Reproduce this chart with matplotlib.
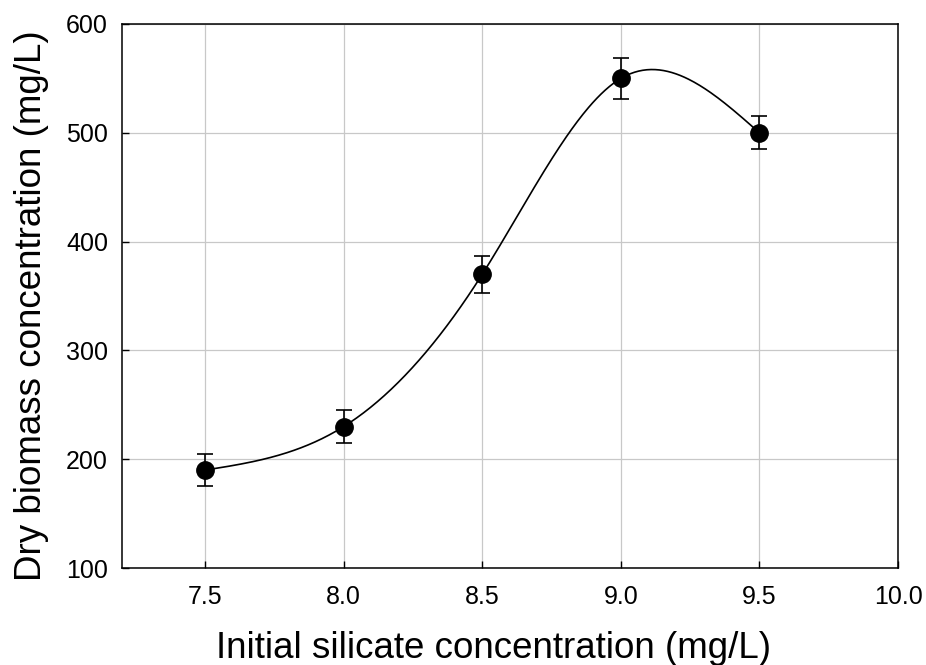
import numpy as np
import matplotlib
matplotlib.use("Agg")
import matplotlib.pyplot as plt

plt.rcParams['font.family'] = ['Liberation Sans', 'DejaVu Sans']

silicate = [7.5, 8.0, 8.5, 9.0, 9.5]
biomass = [190, 230, 370, 550, 500]
errors = [15, 15, 17, 19, 15]
xticks = [7.5, 8.0, 8.5, 9.0, 9.5, 10.0]
yticks = [100, 200, 300, 400, 500, 600]


def natural_spline(x, y, xs):
    x = np.asarray(x, float); y = np.asarray(y, float)
    n = len(x)
    h = np.diff(x)
    A = np.zeros((n, n)); b = np.zeros(n)
    A[0, 0] = 1; A[-1, -1] = 1
    for i in range(1, n - 1):
        A[i, i - 1] = h[i - 1]
        A[i, i] = 2 * (h[i - 1] + h[i])
        A[i, i + 1] = h[i]
        b[i] = 6 * ((y[i + 1] - y[i]) / h[i] - (y[i] - y[i - 1]) / h[i - 1])
    M = np.linalg.solve(A, b)
    out = np.empty_like(xs)
    for k, t in enumerate(xs):
        i = min(max(np.searchsorted(x, t) - 1, 0), n - 2)
        a = x[i + 1] - t; c = t - x[i]
        out[k] = (M[i] * a**3 + M[i + 1] * c**3) / (6 * h[i]) \
            + (y[i] / h[i] - M[i] * h[i] / 6) * a \
            + (y[i + 1] / h[i] - M[i + 1] * h[i] / 6) * c
    return out


fig = plt.figure(figsize=(9.26, 6.65), dpi=100)
ax = fig.add_axes([122 / 926, 1 - 568 / 665, (898 - 122) / 926, (568 - 24) / 665])

xs = np.linspace(silicate[0], silicate[-1], 400)
ax.plot(xs, natural_spline(silicate, biomass, xs), color='black', lw=1.2, zorder=3)
ax.errorbar(silicate, biomass, yerr=errors, fmt='o', color='black', ms=12.5,
            capsize=6, elinewidth=1.2, capthick=1.2, zorder=4)

ax.set_xlim(7.2, 10.0)
ax.set_ylim(100, 600)
ax.set_xticks(xticks)
ax.set_xticklabels([f"{v:.1f}" for v in xticks])
ax.set_yticks(yticks)
ax.grid(True, color='#c8c8c8', lw=0.9, zorder=0)
ax.set_axisbelow(True)
ax.tick_params(direction='in', length=5, width=1, labelsize=18)
ax.tick_params(axis='x', pad=12)
ax.tick_params(axis='y', pad=10)
for s in ax.spines.values():
    s.set_linewidth(1.1)

ax.set_xlabel('Initial silicate concentration (mg/L)', fontsize=26.5, labelpad=16)
ax.set_ylabel('Dry biomass concentration (mg/L)', fontsize=26.5, labelpad=12)
ax.xaxis.label.set_x(0.479)
ax.yaxis.label.set_y(0.482)

fig.savefig('out.png', dpi=100)
